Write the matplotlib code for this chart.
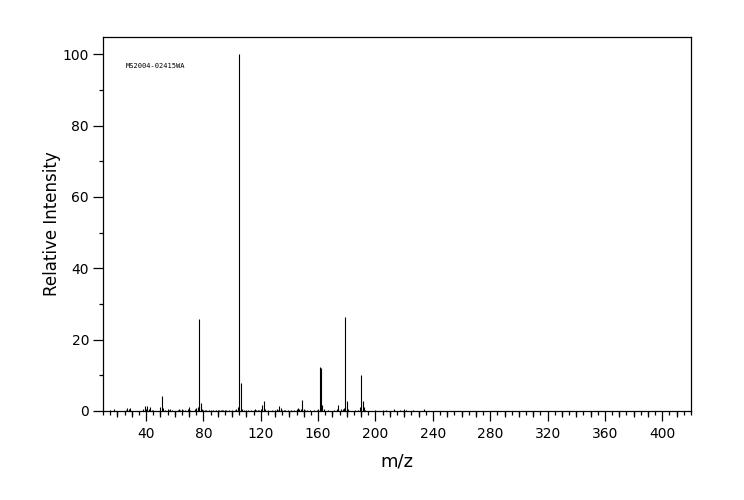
import matplotlib
matplotlib.use("Agg")
import matplotlib.pyplot as plt
from matplotlib.ticker import MultipleLocator, FixedLocator

# peak list (m/z, relative intensity)
mz = [15, 18, 26, 27, 28, 29, 38, 39, 40, 41, 42, 43, 44, 45,
      50, 51, 52, 53, 55, 56, 57, 58, 62, 63, 64, 65, 66, 67, 69, 70, 71,
      74, 75, 76, 77, 78, 79, 80, 81, 82, 84, 85, 87, 89, 90, 91, 92, 93,
      94, 95, 96, 98, 100, 102, 103, 104, 105, 106, 107, 108, 110, 111,
      113, 115, 116, 117, 118, 119, 120, 121, 122, 123, 125, 128, 130,
      131, 132, 133, 134, 135, 136, 137, 139, 141, 143, 145, 146, 147,
      148, 149, 150, 151, 152, 154, 157, 159, 160, 161, 162, 163, 164,
      167, 171, 173, 174, 176, 177, 178, 179, 180, 181, 186, 188, 189,
      190, 191, 192, 193, 200, 205, 207, 213, 217, 220, 221, 226, 234]
intensity = [0.3, 0.6, 0.4, 0.9, 0.6, 0.8, 0.5, 1.4, 0.6, 1.5, 0.5, 1.2, 0.3, 0.4,
             1.0, 4.3, 0.8, 0.4, 0.6, 0.3, 0.7, 0.3, 0.4, 0.6, 0.3, 0.5, 0.3, 0.4, 0.5, 1.1, 0.4,
             0.5, 0.8, 1.0, 25.8, 2.2, 0.5, 0.3, 0.3, 0.3, 0.3, 0.3, 0.3, 0.4, 0.3, 0.4, 0.3, 0.3,
             0.3, 0.3, 0.3, 0.3, 0.3, 0.4, 0.5, 1.0, 100.0, 7.8, 0.6, 0.3, 0.3, 0.3,
             0.3, 0.4, 0.5, 0.4, 0.3, 0.4, 0.5, 1.7, 2.9, 0.5, 0.3, 0.3, 0.4,
             0.5, 0.4, 1.4, 0.8, 0.4, 0.3, 0.3, 0.3, 0.3, 0.4, 0.6, 0.8, 0.6,
             0.6, 3.1, 0.6, 0.3, 0.3, 0.3, 0.3, 0.4, 0.6, 12.3, 12.0, 1.8, 0.6,
             0.3, 0.4, 0.5, 1.6, 0.6, 0.6, 0.8, 26.3, 2.8, 0.5, 0.3, 0.4, 1.0,
             10.1, 2.8, 1.0, 0.3, 0.3, 0.3, 0.3, 0.5, 0.3, 0.7, 0.4, 0.3, 0.5]

spectrum_id = "MS2004-02415WA"
x_major = list(range(40, 401, 40))
y_major = [0, 20, 40, 60, 80, 100]

fig = plt.figure(figsize=(7.44, 5.0), dpi=100)
ax = fig.add_axes([103 / 744, 1 - 411 / 500, 588 / 744, 374 / 500])

ax.vlines(mz, 0, intensity, color="black", linewidth=0.8)

ax.set_xlim(10, 420)
ax.set_ylim(0, 104.8)

for s in ax.spines.values():
    s.set_linewidth(0.9)

# x ticks: long every 40, short every 5, medium every 10 via a second axis
ax.xaxis.set_major_locator(FixedLocator(x_major))
ax.xaxis.set_minor_locator(MultipleLocator(5))
ax.tick_params(axis="x", which="major", length=7.5, width=0.9, labelsize=10, pad=4)
ax.tick_params(axis="x", which="minor", length=3, width=0.9)

mid = ax.secondary_xaxis("bottom")
mid.set_xticks([v for v in range(20, 420, 10) if v % 40 != 0])
mid.tick_params(axis="x", length=4.5, width=0.9, labelbottom=False)
mid.spines["bottom"].set_visible(False)

ax.yaxis.set_major_locator(FixedLocator(y_major))
ax.yaxis.set_minor_locator(MultipleLocator(10))
ax.tick_params(axis="y", which="major", length=7, width=0.9, labelsize=10, pad=3)
ax.tick_params(axis="y", which="minor", length=3, width=0.9)

ax.set_xlabel("m/z", fontsize=13, labelpad=8)
ax.set_ylabel("Relative Intensity", fontsize=12, labelpad=1)

fig.text(126 / 744, 1 - 66 / 500, spectrum_id, fontsize=5,
         family="DejaVu Sans Mono", va="center")

fig.savefig("out.png", dpi=100)
